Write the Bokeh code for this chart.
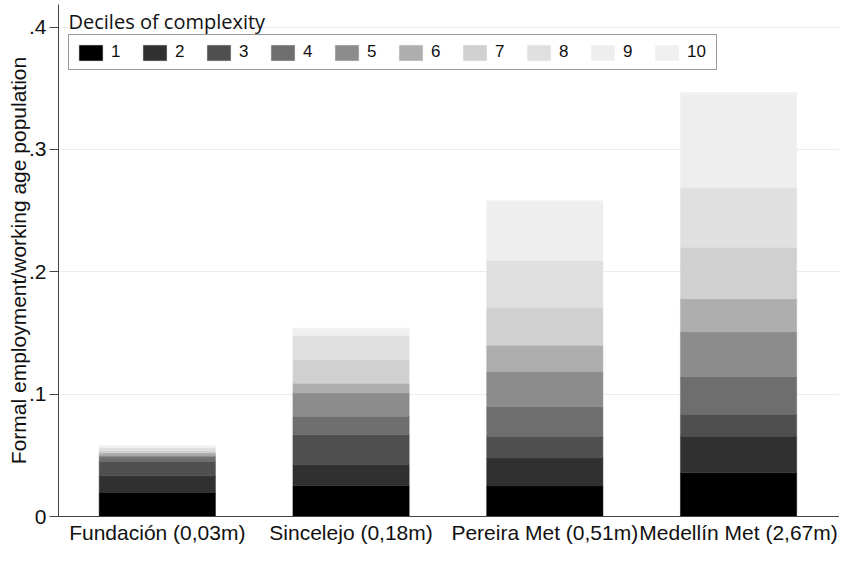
from bokeh.plotting import figure
from bokeh.models import Range1d, FixedTicker, Legend, LegendItem, Label, ColumnDataSource
from bokeh.embed import file_html
from bokeh.resources import INLINE

# ---- data ----
cities = ["Fundación (0,03m)", "Sincelejo (0,18m)", "Pereira Met (0,51m)", "Medellín Met (2,67m)"]
decile_labels = ["1", "2", "3", "4", "5", "6", "7", "8", "9", "10"]
# share of formal employment / working age population contributed by each decile
d1 = [0.0196, 0.0252, 0.0250, 0.0357]
d2 = [0.0137, 0.0173, 0.0228, 0.0299]
d3 = [0.0119, 0.0244, 0.0178, 0.0180]
d4 = [0.0034, 0.0151, 0.0242, 0.0309]
d5 = [0.0014, 0.0190, 0.0287, 0.0365]
d6 = [0.0022, 0.0080, 0.0215, 0.0270]
d7 = [0.0018, 0.0190, 0.0310, 0.0420]
d8 = [0.0022, 0.0200, 0.0380, 0.0490]
d9 = [0.0011, 0.0035, 0.0475, 0.0760]
d10 = [0.0007, 0.0025, 0.0015, 0.0015]
y_ticks = [0, 0.1, 0.2, 0.3, 0.4]
y_tick_labels = ["0", ".1", ".2", ".3", ".4"]

colors = ["#000000", "#303030", "#4f4f4f", "#6e6e6e", "#8c8c8c",
          "#aeaeae", "#d0d0d0", "#e0e0e0", "#eeeeee", "#f0f0f0"]

deciles = [d1, d2, d3, d4, d5, d6, d7, d8, d9, d10]
keys = ["d%d" % (i + 1) for i in range(len(deciles))]
xpos = list(range(1, len(cities) + 1))
data = {"x": xpos}
for k, v in zip(keys, deciles):
    data[k] = v
source = ColumnDataSource(data)

FONT = "Liberation Sans"

p = figure(width=839, height=546, output_backend="svg", toolbar_location=None,
           x_range=Range1d(0.49, 4.521), y_range=Range1d(0, 0.4185),
           min_border_left=58, min_border_right=0, min_border_top=4, min_border_bottom=0)
p.outline_line_color = None
p.background_fill_color = "white"

renderers = p.vbar_stack(keys, x="x", width=0.6, source=source,
                         fill_color=colors, line_color=colors, line_width=0.5)

# axes
p.xaxis.ticker = FixedTicker(ticks=xpos)
p.xaxis.major_label_overrides = {x: c for x, c in zip(xpos, cities)}
p.xaxis.major_tick_line_color = None
p.xaxis.major_tick_out = 0
p.xaxis.major_tick_in = 0
p.xaxis.minor_tick_line_color = None
p.xaxis.minor_tick_out = 0
p.xaxis.major_label_text_font = FONT
p.xaxis.major_label_text_font_size = "21px"
p.xaxis.major_label_text_color = "#111111"
p.xaxis.major_label_standoff = 4
p.xaxis.axis_label_standoff = 0
p.xaxis.axis_label_text_font_size = "0px"
p.xaxis.axis_line_color = "#444444"

p.yaxis.ticker = FixedTicker(ticks=y_ticks)
p.yaxis.major_label_overrides = {t: l for t, l in zip(y_ticks, y_tick_labels)}
p.yaxis.minor_tick_line_color = None
p.yaxis.major_tick_out = 9
p.yaxis.major_tick_in = 0
p.yaxis.major_tick_line_color = "#444444"
p.yaxis.axis_line_color = "#444444"
p.yaxis.major_label_text_font = FONT
p.yaxis.major_label_text_font_size = "21px"
p.yaxis.major_label_text_color = "#111111"
p.yaxis.major_label_standoff = 3
p.yaxis.axis_label = "Formal employment/working age population"
p.yaxis.axis_label_text_font = FONT
p.yaxis.axis_label_text_font_size = "21px"
p.yaxis.axis_label_text_font_style = "normal"
p.yaxis.axis_label_text_color = "#111111"
p.yaxis.axis_label_standoff = -4

p.xgrid.visible = False
p.ygrid.ticker = FixedTicker(ticks=y_ticks)
p.ygrid.grid_line_color = "#e6eff0"
p.ygrid.grid_line_width = 1

# legend
items = [LegendItem(label=lab, renderers=[r]) for lab, r in zip(decile_labels, renderers)]
legend = Legend(items=items, orientation="horizontal", location=(10, 446),
                glyph_width=29, glyph_height=19, label_standoff=6, label_width=22,
                spacing=7, padding=7, margin=0,
                label_text_font=FONT, label_text_font_size="17px",
                label_text_color="#111111",
                border_line_color="#333333", border_line_width=1.5,
                background_fill_color="white", background_fill_alpha=1.0)
p.add_layout(legend, "center")

title = Label(x=0.49, y=0.4045, x_offset=10, text="Deciles of complexity",
              text_font="Open Sans", text_font_size="20px", text_color="#111111",
              text_baseline="alphabetic")
p.add_layout(title)

open("out.html", "w").write(file_html(p, INLINE))
